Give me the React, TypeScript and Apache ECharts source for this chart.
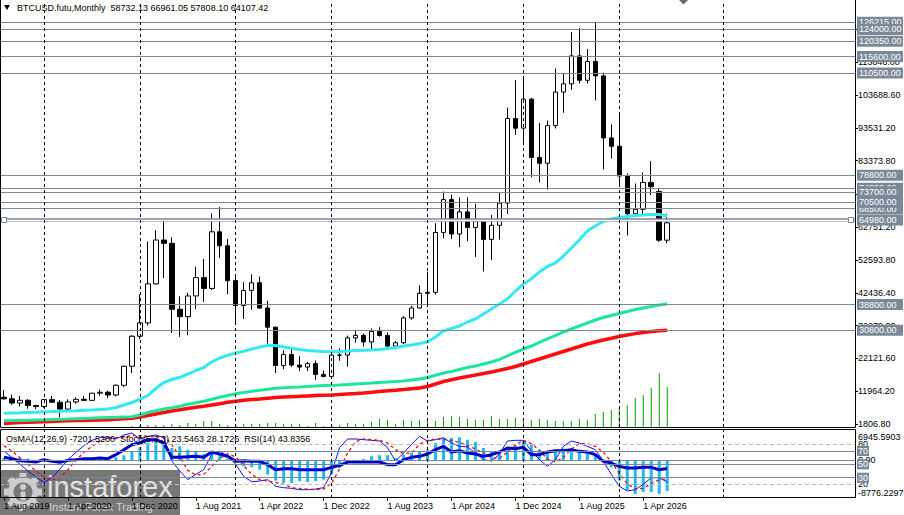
import React, { useEffect, useRef } from "react";
import * as echarts from "echarts";

const months = [
  "Aug 2019","Sep 2019","Oct 2019","Nov 2019","Dec 2019",
  "Jan 2020","Feb 2020","Mar 2020","Apr 2020","May 2020","Jun 2020","Jul 2020","Aug 2020","Sep 2020","Oct 2020","Nov 2020","Dec 2020",
  "Jan 2021","Feb 2021","Mar 2021","Apr 2021","May 2021","Jun 2021","Jul 2021","Aug 2021","Sep 2021","Oct 2021","Nov 2021","Dec 2021",
  "Jan 2022","Feb 2022","Mar 2022","Apr 2022","May 2022","Jun 2022","Jul 2022","Aug 2022","Sep 2022","Oct 2022","Nov 2022","Dec 2022",
  "Jan 2023","Feb 2023","Mar 2023","Apr 2023","May 2023","Jun 2023","Jul 2023","Aug 2023","Sep 2023","Oct 2023","Nov 2023","Dec 2023",
  "Jan 2024","Feb 2024","Mar 2024","Apr 2024","May 2024","Jun 2024","Jul 2024","Aug 2024","Sep 2024","Oct 2024","Nov 2024","Dec 2024",
  "Jan 2025","Feb 2025","Mar 2025","Apr 2025","May 2025","Jun 2025","Jul 2025","Aug 2025","Sep 2025","Oct 2025","Nov 2025","Dec 2025",
  "Jan 2026","Feb 2026","Mar 2026","Apr 2026","May 2026","Jun 2026","Jul 2026","Aug 2026","Sep 2026","Oct 2026","Nov 2026","Dec 2026",
  "Jan 2027","Feb 2027","Mar 2027","Apr 2027","May 2027","Jun 2027","Jul 2027","Aug 2027","Sep 2027","Oct 2027","Nov 2027","Dec 2027",
  "Jan 2028","Feb 2028","Mar 2028","Apr 2028","May 2028","Jun 2028",
];

const opens = [10100, 9600, 8300, 9150, 7550, 7200, 9350, 8550, 6430, 8650, 9450, 9140, 11350, 11650, 10780, 13800, 19700, 28990, 33110, 45200, 58790, 57750, 37330, 35040, 41460, 47130, 43790, 61320, 57000, 46200, 38480, 43190, 45540, 37710, 31790, 19930, 23300, 20050, 19430, 20490, 17170, 16540, 23130, 23150, 28470, 29250, 27220, 30480, 29230, 25940, 26970, 34650, 37720, 42280, 42580, 61130, 71290, 60640, 67490, 62680, 64620, 58970, 63330, 70220, 96400, 93430, 102400, 84350, 82550, 94200, 104600, 107150, 115800, 108250, 114050, 109600, 90400, 87800, 78600, 66900, 68300, 76600, 73800, 58732.13];
const closes = [9600, 8300, 9150, 7550, 7200, 9350, 8550, 6430, 8650, 9450, 9140, 11350, 11650, 10780, 13800, 19700, 28990, 33110, 45200, 58790, 57750, 37330, 35040, 41460, 47130, 43790, 61320, 57000, 46200, 38480, 43190, 45540, 37710, 31790, 19930, 23300, 20050, 19430, 20490, 17170, 16540, 23130, 23150, 28470, 29250, 27220, 30480, 29230, 25940, 26970, 34650, 37720, 42280, 42580, 61130, 71290, 60640, 67490, 62680, 64620, 58970, 63330, 70220, 96400, 93430, 102400, 84350, 82550, 94200, 104600, 107150, 115800, 108250, 114050, 109600, 90400, 87800, 78600, 66900, 68300, 76600, 75300, 58732.13, 64107.42];
const highs = [12300, 10900, 10500, 9500, 7750, 9580, 10500, 9200, 9450, 10070, 10400, 11450, 12470, 12080, 14100, 19920, 29300, 41950, 58350, 61800, 64900, 59600, 41330, 42450, 50500, 52920, 67000, 69000, 59100, 47940, 45800, 48190, 47450, 40000, 31990, 24670, 25200, 22800, 21080, 21480, 18390, 23950, 25250, 29190, 31000, 29820, 31390, 31800, 30190, 27480, 35200, 38420, 44730, 48970, 63970, 73780, 72800, 71950, 71980, 70020, 65100, 66500, 73600, 99800, 108300, 109600, 102800, 95000, 95800, 111900, 110500, 123200, 124450, 117900, 126215, 110600, 94600, 97900, 79400, 76300, 79700, 83200, 74600, 66961.05];
const lows = [9400, 7750, 7300, 6550, 6430, 6850, 8450, 3850, 6150, 8100, 8900, 8950, 10550, 9870, 10380, 13230, 17580, 28130, 32300, 45000, 47000, 30000, 28800, 29300, 37330, 39600, 43290, 53260, 42000, 32920, 34320, 37170, 37580, 26700, 17600, 18780, 19550, 18150, 18200, 15480, 16260, 16500, 21400, 19550, 26950, 25810, 24800, 28860, 25170, 24900, 26550, 34100, 37620, 38550, 41880, 59320, 59120, 56550, 58420, 53550, 49050, 52550, 58900, 66830, 91300, 89200, 78200, 76600, 74400, 93300, 98200, 105300, 107300, 107250, 102000, 80600, 84000, 75800, 60200, 66000, 66200, 72700, 58200, 57808.1];

const volumes = [0,0,0,0,0,0,0,0,0,0, 0,0,0,0,0,0,1,1,2,2, 2,3,2,4,3,6,6,3,2,3, 3,3,3,4,4,3,3,3,1,4, 1,3,2,4,3,3,5,8,7,3, 7,6,7,8,6,10,11,10,8,7, 7,11,8,8,9,8,7,8,7,6, 6,6,8,7,13,15,17,19,22,29, 32,39,54,40];

const maFast = [5120, 5210, 5270, 5370, 5460, 5620, 5680, 5770, 5830, 5930, 6050, 6140, 6300, 6450, 6920, 7690, 8470, 9390, 10630, 12800, 14660, 15590, 16270, 17290, 18370, 19300, 21010, 22240, 23080, 23790, 24320, 25030, 25650, 26120, 26120, 25650, 25250, 24880, 24570, 24410, 24260, 24200, 24260, 24410, 24570, 24630, 24720, 24880, 25190, 25500, 25960, 26270, 26740, 27200, 28750, 30610, 31380, 32150, 33390, 34320, 35870, 37420, 38970, 40520, 42990, 45160, 46710, 48880, 50580, 51660, 53830, 56310, 58790, 61570, 63120, 64510, 65290, 65750, 66060, 66370, 66530, 66680, 66680, 66220];
const maMid = [2830, 2860, 2920, 2980, 3050, 3110, 3200, 3290, 3360, 3450, 3540, 3630, 3730, 3820, 3910, 4010, 4070, 4590, 5370, 5930, 6450, 6820, 7290, 7910, 8370, 8840, 9460, 10080, 10630, 11160, 11560, 11960, 12240, 12580, 12890, 13020, 13170, 13300, 13450, 13570, 13700, 13790, 13880, 14010, 14190, 14350, 14500, 14660, 14810, 14970, 15120, 15430, 15740, 16210, 16890, 17600, 18060, 18680, 19300, 19770, 20390, 21010, 21780, 22870, 23950, 25030, 25960, 27050, 28130, 29210, 30300, 31230, 32160, 33080, 34010, 34790, 35410, 36030, 36650, 37260, 37730, 38190, 38660, 38970];
const maSlow = [1960, 2120, 2240, 2360, 2460, 2520, 2610, 2710, 2800, 2860, 2920, 2980, 3050, 3140, 3260, 3420, 3570, 3980, 4440, 4900, 5370, 5830, 6200, 6610, 6980, 7290, 7690, 8090, 8530, 8840, 9150, 9360, 9550, 9800, 10010, 10140, 10260, 10380, 10510, 10630, 10730, 10820, 10940, 11100, 11250, 11410, 11620, 11870, 12090, 12270, 12490, 12740, 12960, 13420, 14190, 14970, 15530, 16050, 16520, 16980, 17450, 17910, 18440, 18990, 19610, 20390, 21160, 21940, 22710, 23480, 24260, 25030, 25810, 26580, 27200, 27820, 28350, 28900, 29370, 29800, 30140, 30420, 30670, 30850];

const osma = [590, 750, 590, 430, -100, -200, -100, -350, -200, -50, 100, 200, 350, 500, 750, 1220, 2160, 3100, 4120, 4520, 4360, 2950, 3340, 2550, 2000, 1530, 1530, 1375, 430, -590, -1380, -1610, -2160, -3340, -4750, -5300, -5300, -4900, -5070, -4900, -4520, -3340, -1770, -200, 40, 350, 980, 1220, 1220, 590, 1375, 1770, 2160, 2550, 4120, 5300, 5300, 5460, 4900, 4360, 2950, 2160, 2160, 2790, 3575, 4520, 3730, 2550, 2160, 2550, 2790, 2320, 2160, 2000, 1375, 200, -1610, -4750, -6950, -7900, -7420, -7420, -7900, -7201.528];
const stochMain = [70, 60, 50, 40, 31, 23, 30, 43, 57, 68, 78, 86, 90, 91, 88, 94, 97, 88, 92, 94, 90, 55, 40, 27, 35, 42, 65, 70, 62, 50, 32, 24, 25, 27, 17, 15, 14, 12, 12, 13, 15, 38, 75, 88, 88, 87, 86, 85, 75, 55, 67, 80, 92, 85, 87, 90, 82, 77, 76, 67, 57, 55, 65, 85, 86, 86, 70, 57, 47, 57, 77, 85, 82, 77, 72, 55, 35, 17, 10, 12, 20, 30, 30, 23.5463];
const stochSignal = [78, 70, 60, 50, 40, 31, 26, 30, 42, 56, 68, 77, 85, 89, 90, 91, 93, 93, 92, 91, 92, 80, 62, 41, 34, 35, 47, 59, 66, 61, 48, 35, 27, 25, 23, 20, 15, 14, 13, 12, 13, 22, 43, 67, 84, 88, 87, 86, 82, 72, 66, 67, 80, 86, 88, 87, 86, 83, 78, 73, 67, 60, 59, 68, 79, 86, 81, 71, 58, 54, 60, 73, 81, 81, 77, 68, 54, 36, 21, 13, 14, 21, 27, 28.1726];
const rsi = [60.5, 58.5, 55.5, 54.5, 53.5, 57, 54.5, 53, 56, 57, 58.5, 58.5, 59.5, 58.5, 64.5, 72, 79.5, 82, 87, 87, 82, 60.5, 60.5, 61.5, 62, 60.5, 68.5, 65.5, 62, 54.5, 55.5, 54.5, 54.5, 49.5, 42, 43.5, 43.5, 42, 42, 42, 42, 45.5, 48.5, 53.5, 53.5, 53.5, 53.5, 53.5, 49.5, 49.5, 57, 60.5, 62, 65.5, 72, 77, 68.5, 70.5, 67, 65.5, 62, 64.5, 68.5, 74.5, 73.5, 75.5, 64.5, 64.5, 68.5, 70.5, 70.5, 72, 69.5, 68.5, 64.5, 54.5, 52, 47, 44.5, 44.5, 45.5, 45.5, 42, 43.8356];

const priceLevels = [126215, 124000, 120350, 115600, 110500, 78800, 74800, 73700, 68500, 70500, 38800, 30800];
const selectedLevel = 64980;
const priceTicks = [1806.8, 11964.2, 22121.6, 32279.0, 42436.4, 52593.8, 62751.2, 72908.6, 83373.8, 93531.2, 103688.6, 113846.0, 124003.4];
const gridMonths = ["Jan 2020", "Jan 2021", "Jan 2022", "Jan 2023", "Jan 2024", "Jan 2025", "Jan 2026", "Feb 2027"];
const oscBoxLevels = [70, 50, 30];
const oscDashLevels = [80, 20];

const FONT = "'Liberation Sans', Arial, sans-serif";
const GRAY = "#7a8898";
const lastDataIndex = opens.length - 1;

export default function App() {
  const ref = useRef<HTMLDivElement>(null);
  useEffect(() => {
    if (!ref.current) return;
    const chart = echarts.init(ref.current, null, { renderer: "svg" });
    const candleData = opens.map((o, i) => [o, closes[i], lows[i], highs[i]]);
    const labelEvery = (idx: number) => idx % 8 === 0 && idx <= lastDataIndex - 3;
    const boxLabel = {
      show: true, position: "end", distance: 2, color: "#fff", backgroundColor: GRAY,
      fontSize: 9, fontFamily: FONT, lineHeight: 10, padding: [1, 2, 0, 2],
    };
    const vLines = {
      silent: true, symbol: ["none", "none"], label: { show: false },
      lineStyle: { color: "#000", type: [3, 3], width: 1 },
      data: gridMonths.map((m) => ({ xAxis: m })),
    };
    const LOGO = "#cdcdcd";
    const teeth = [0, 1, 2, 3, 4, 5, 6, 7].map((k) => ({
      type: "rect", x: 23, y: 492, rotation: (k * Math.PI) / 4,
      shape: { x: -3.5, y: -19, width: 7, height: 7 }, style: { fill: LOGO },
    }));
    const option: any = {
      animation: false,
      grid: [
        { left: -2, top: 1, width: 857, height: 426 },
        { left: -2, top: 429, width: 857, height: 69 },
      ],
      xAxis: [
        { type: "category", gridIndex: 0, data: months, boundaryGap: true, show: false },
        {
          type: "category", gridIndex: 1, data: months, boundaryGap: true,
          axisLine: { show: false },
          axisTick: { show: true, interval: labelEvery, alignWithLabel: true, length: 3, lineStyle: { color: "#000" } },
          axisLabel: { interval: labelEvery, formatter: (v: string) => "1 " + v, align: "left", color: "#000", fontSize: 9, fontFamily: FONT, margin: 3 },
          splitLine: { show: false },
        },
      ],
      yAxis: [
        {
          type: "value", gridIndex: 0, position: "right", min: 878, max: 132797,
          splitLine: { show: false }, axisLine: { show: false },
          axisTick: { show: true, customValues: priceTicks, length: 3, lineStyle: { color: "#000" } },
          axisLabel: { customValues: priceTicks, formatter: (v: number) => v.toFixed(2), color: "#000", fontSize: 9, fontFamily: FONT, margin: 3 },
        },
        { type: "value", gridIndex: 0, min: 0, max: 426, show: false },
        {
          type: "value", gridIndex: 1, position: "right", min: -0.45, max: 103,
          splitLine: { show: false }, axisLine: { show: false }, axisTick: { show: false },
          axisLabel: { customValues: oscDashLevels, formatter: (v: number) => String(v), color: "#000", fontSize: 9, fontFamily: FONT, margin: 3 },
        },
        {
          type: "value", gridIndex: 1, position: "right", min: -8847, max: 7417,
          splitLine: { show: false }, axisLine: { show: false }, axisTick: { show: false },
          axisLabel: { customValues: [0], formatter: (v: number) => v.toFixed(2), color: "#000", fontSize: 9, fontFamily: FONT, margin: 3 },
        },
      ],
      series: [
        {
          type: "line", xAxisIndex: 0, yAxisIndex: 0, data: [], z: 1, silent: true,
          markLine: {
            silent: true, symbol: ["none", "none"],
            lineStyle: { color: GRAY, width: 1, type: "solid" },
            label: { ...boxLabel, width: 42, formatter: (p: any) => Number(p.value).toFixed(2) },
            data: [
              ...priceLevels.map((v) => ({ yAxis: v })),
              { yAxis: selectedLevel, lineStyle: { width: 3.6, color: GRAY } },
              { yAxis: selectedLevel, lineStyle: { width: 1.3, color: "#fff" }, label: { show: false } },
            ],
          },
          markPoint: {
            silent: true, symbol: "rect", symbolSize: 5,
            itemStyle: { color: "#fff", borderColor: GRAY, borderWidth: 1 }, label: { show: false },
            data: [{ coord: [months[0], selectedLevel] }, { coord: [months[months.length - 1], selectedLevel] }],
          },
        },
        { type: "line", xAxisIndex: 0, yAxisIndex: 0, data: [], z: 1, silent: true, markLine: vLines },
        {
          type: "bar", xAxisIndex: 0, yAxisIndex: 1, data: volumes, barWidth: 1, z: 2, silent: true,
          itemStyle: { color: "#00a000" },
        },
        {
          type: "candlestick", xAxisIndex: 0, yAxisIndex: 0, data: candleData, barWidth: 5, z: 3, silent: true,
          itemStyle: { color: "#ffffff", color0: "#000000", borderColor: "#000000", borderColor0: "#000000", borderWidth: 1 },
        },
        { type: "line", xAxisIndex: 0, yAxisIndex: 0, data: maSlow, symbol: "none", z: 4, silent: true, lineStyle: { color: "#ff0d0d", width: 3.5 } },
        { type: "line", xAxisIndex: 0, yAxisIndex: 0, data: maMid, symbol: "none", z: 4, silent: true, lineStyle: { color: "#1fe59b", width: 3 } },
        { type: "line", xAxisIndex: 0, yAxisIndex: 0, data: maFast, symbol: "none", z: 4, silent: true, lineStyle: { color: "#35e9f2", width: 3 } },
        // oscillator panel
        {
          type: "line", xAxisIndex: 1, yAxisIndex: 2, data: [], z: 1, silent: true,
          markLine: {
            silent: true, symbol: ["none", "none"],
            lineStyle: { color: GRAY, width: 1, type: "solid" },
            label: { ...boxLabel, padding: [0, 1, 0, 1], formatter: (p: any) => String(p.value) },
            data: [
              ...oscBoxLevels.map((v) => ({ yAxis: v })),
              ...oscDashLevels.map((v) => ({ yAxis: v, lineStyle: { color: "#bdbdbd", type: [4, 3] }, label: { show: false } })),
            ],
          },
        },
        {
          type: "line", xAxisIndex: 1, yAxisIndex: 3, data: [], z: 1, silent: true,
          markLine: { silent: true, symbol: ["none", "none"], label: { show: false }, lineStyle: { color: GRAY, width: 1, type: "solid" }, data: [{ yAxis: 0 }] },
        },
        { type: "line", xAxisIndex: 1, yAxisIndex: 3, data: [], z: 1, silent: true, markLine: vLines },
        { type: "bar", xAxisIndex: 1, yAxisIndex: 3, data: osma, barWidth: 3, z: 2, silent: true, itemStyle: { color: "#1cbcf2" } },
        { type: "line", xAxisIndex: 1, yAxisIndex: 2, data: stochMain, symbol: "none", z: 3, silent: true, lineStyle: { color: "#1010ff", width: 1 } },
        { type: "line", xAxisIndex: 1, yAxisIndex: 2, data: stochSignal, symbol: "none", z: 3, silent: true, lineStyle: { color: "#ff0000", width: 1.3, type: [3, 3] } },
        { type: "line", xAxisIndex: 1, yAxisIndex: 2, data: rsi, symbol: "none", z: 4, silent: true, lineStyle: { color: "#0000cd", width: 3 } },
      ],
      graphic: [
        { type: "rect", z: 50, shape: { x: 0.5, y: -1, width: 855, height: 428.5 }, style: { fill: "none", stroke: "#000", lineWidth: 1 }, silent: true },
        { type: "rect", z: 50, shape: { x: 0.5, y: 429.5, width: 855, height: 68 }, style: { fill: "none", stroke: "#000", lineWidth: 1 }, silent: true },
        { type: "polygon", z: 50, shape: { points: [[4, 5], [10, 5], [7, 10]] }, style: { fill: "#000" } },
        { type: "polygon", z: 50, shape: { points: [[679, 0], [688, 0], [683.5, 4.5]] }, style: { fill: "#6a6a6a" } },
        {
          type: "text", z: 50, x: 17, y: 8,
          style: { text: "BTCUSD.futu,Monthly  58732.13 66961.05 57808.10 64107.42", fill: "#000", fontSize: 9, fontFamily: FONT, textVerticalAlign: "middle", verticalAlign: "middle" },
        },
        {
          type: "text", z: 50, x: 6, y: 438.5,
          style: { text: "OsMA(12,26,9) -7201.5280  Stoch(5,3,3) 23.5463 28.1726  RSI(14) 43.8356", fill: "#000", fontSize: 9, fontFamily: FONT, textVerticalAlign: "middle", verticalAlign: "middle" },
        },
        { type: "text", z: 50, x: 858, y: 437, style: { text: "6945.5903", fill: "#000", fontSize: 9, fontFamily: FONT, textVerticalAlign: "middle", verticalAlign: "middle" } },
        { type: "text", z: 50, x: 858, y: 492.5, style: { text: "-8776.2297", fill: "#000", fontSize: 9, fontFamily: FONT, textVerticalAlign: "middle", verticalAlign: "middle" } },
        {
          type: "group", z: 100, silent: true,
          children: [
            { type: "rect", shape: { x: 0, y: 470, width: 180, height: 45 }, style: { fill: "rgba(72,72,72,0.74)" } },
            ...teeth,
            { type: "ring", shape: { cx: 23, cy: 492, r: 15, r0: 9.5 }, style: { fill: LOGO } },
            { type: "circle", shape: { cx: 23, cy: 487, r: 3.2 }, style: { fill: LOGO } },
            { type: "rect", shape: { x: 20.5, y: 491.5, width: 5, height: 9 }, style: { fill: LOGO } },
            { type: "text", x: 47, y: 487, style: { text: "instaforex", fill: "#e2e2e2", fontSize: 29, fontFamily: FONT, textVerticalAlign: "middle", verticalAlign: "middle" } },
            { type: "text", x: 49, y: 507, style: { text: "Instant Forex Trading", fill: "#d4d4d4", fontSize: 11, fontFamily: FONT, textVerticalAlign: "middle", verticalAlign: "middle" } },
          ],
        },
      ],
    };
    chart.setOption(option);
    return () => chart.dispose();
  }, []);
  return <div ref={ref} style={{ position: "absolute", left: 0, top: 0, width: 904, height: 515 }} />;
}
